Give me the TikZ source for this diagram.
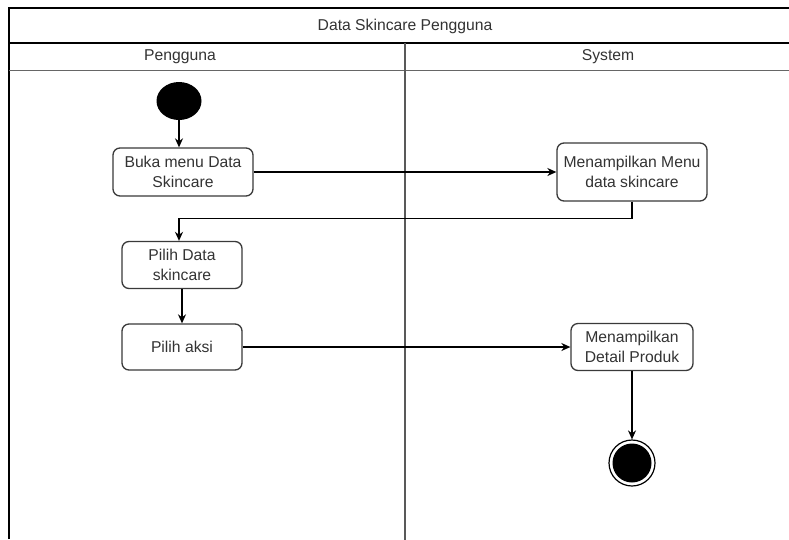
\documentclass[tikz,border=0pt]{standalone}
\usepackage{fontspec}
\setmainfont{Liberation Sans}
\usetikzlibrary{arrows.meta,shapes.geometric}
\definecolor{txt}{HTML}{333333}
\definecolor{edge}{HTML}{3A3A3A}
\tikzset{
  act/.style={draw=edge, line width=1.3pt, rounded corners=7pt, fill=white,
    align=center, text=txt, font=\fontsize{15.7}{20}\selectfont,
    inner sep=0pt},
  flow/.style={draw=black, line width=1.3pt,
    -{Stealth[length=9pt,width=8pt]}},
  lanetext/.style={text=txt, font=\fontsize{15.7}{20}\selectfont},
}
\begin{document}
\begin{tikzpicture}[x=1pt,y=-1pt]
  \useasboundingbox (0,0) rectangle (789,539);
  \fill[white] (0,0) rectangle (789,539);

  % swimlane frame
  \begin{scope}
    \clip (0,0) rectangle (789,539);
    \draw[black, line width=1.6pt] (9,539) -- (9,8) -- (795,8);
    \draw[black, line width=1.4pt] (9,43) -- (795,43);
    \draw[gray!80!black, line width=1pt] (9,70) -- (795,70);
    \draw[gray!70!black, line width=1.2pt] (405,43) -- (405,545);
  \end{scope}

  \node[lanetext] (title) at (405,26) {Data Skincare Pengguna};
  \node[lanetext] (laneA) at (180,57) {Pengguna};
  \node[lanetext] (laneB) at (608,57) {System};

  % start and end
  \node[ellipse, fill=black, minimum width=45pt, minimum height=38pt,
    inner sep=0pt] (start) at (179,101) {};
  \node[circle, draw=black, line width=1.2pt, fill=white, minimum size=46pt,
    inner sep=0pt] (stop) at (632,463) {};
  \fill[black] (stop.center) circle (19.5pt);

  % activities
  \node[act, minimum width=140pt, minimum height=48pt] (buka) at (183,172)
    {Buka menu Data\\Skincare};
  \node[act, minimum width=150pt, minimum height=58pt] (menu) at (632,172)
    {Menampilkan Menu\\data skincare};
  \node[act, minimum width=120pt, minimum height=47pt] (pilihdata) at (182,265)
    {Pilih Data\\skincare};
  \node[act, minimum width=120pt, minimum height=46pt] (aksi) at (182,347)
    {Pilih aksi};
  \node[act, minimum width=122pt, minimum height=47pt] (detail) at (632,347)
    {Menampilkan\\Detail Produk};

  % control flow
  \draw[flow] (start.south) -- (buka.north -| start.south);
  \draw[flow] (buka.east) -- (menu.west);
  \draw[flow] (menu.south) -- ++(0,17) -| (pilihdata.north -| start.south);
  \draw[flow] (pilihdata.south) -- (aksi.north);
  \draw[flow] (aksi.east) -- (detail.west);
  \draw[flow] (detail.south) -- (stop.north);
\end{tikzpicture}
\end{document}
